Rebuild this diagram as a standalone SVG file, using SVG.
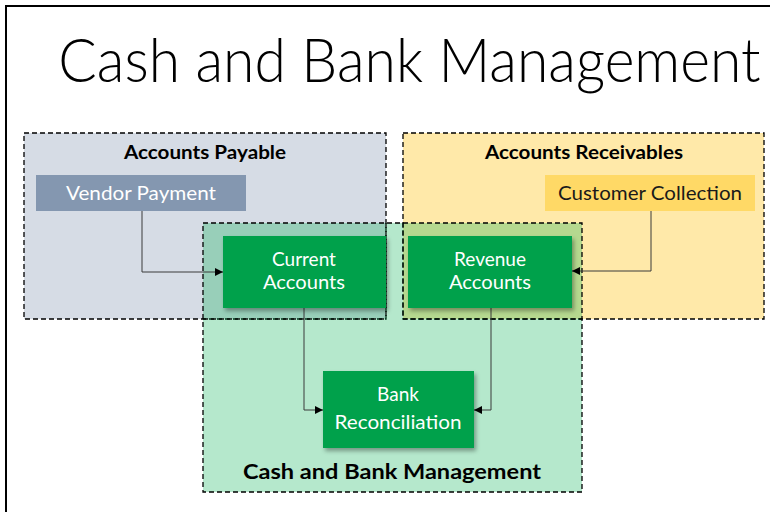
<svg xmlns="http://www.w3.org/2000/svg" width="770" height="512" viewBox="0 0 770 512">
<style>
.grp{stroke:#000;stroke-width:1.3;stroke-dasharray:5 3}
.gl{font-family:Lato,"Liberation Sans",sans-serif;font-weight:bold;fill:#000;text-anchor:middle}
.nt{font-family:Lato,"Liberation Sans",sans-serif;font-size:19px;fill:#fff;text-anchor:middle}
.green{fill:#00a14b}
.conn{fill:none;stroke:#3a3a3a;stroke-width:1}
</style>
<defs>
<marker id="arr" viewBox="0 0 10 10" refX="10" refY="5" markerWidth="8" markerHeight="8" markerUnits="userSpaceOnUse" orient="auto">
<path d="M0,0 L10,5 L0,10 z" fill="#000"/>
</marker>
<filter id="sh" x="-10%" y="-10%" width="130%" height="140%">
<feDropShadow dx="2" dy="3" stdDeviation="2" flood-color="#000" flood-opacity="0.35"/>
</filter>
</defs>
<rect x="0" y="0" width="770" height="512" fill="#fff"/>
<path d="M6,512 L6,6 L770,6" fill="none" stroke="#000" stroke-width="2"/>
<text transform="scale(0.92,1)" x="445" y="82" font-family="Lato,'Open Sans',sans-serif" font-weight="300" font-size="62" text-anchor="middle" fill="#000">Cash and Bank Management</text>

<g id="accounts-payable">
<rect class="grp" x="24" y="133" width="362" height="186" fill="#d6dce5"/>
<text class="gl" x="205" y="159" font-size="18" textLength="162" lengthAdjust="spacingAndGlyphs">Accounts Payable</text>
</g>
<g id="accounts-receivables">
<rect class="grp" x="403" y="133" width="361" height="186" fill="#ffe9a9"/>
<text class="gl" x="584" y="159" font-size="18" textLength="198" lengthAdjust="spacingAndGlyphs">Accounts Receivables</text>
</g>
<g id="cash-bank-management">
<rect x="203" y="223" width="379" height="269" fill="#00b050" fill-opacity="0.29"/>
<rect class="grp" x="203" y="223" width="379" height="269" fill="none"/>
<path class="grp" d="M386,223 L386,319 M403,223 L403,319 M203,319 L386,319 M403,319 L582,319" fill="none" stroke-opacity="0.9"/>
<text class="gl" x="392" y="479" font-size="21" textLength="298" lengthAdjust="spacingAndGlyphs">Cash and Bank Management</text>
</g>

<g id="connectors">
<path class="conn" d="M142,211 L142,272 L223,272" marker-end="url(#arr)"/>
<path class="conn" d="M651,211 L651,271 L572,271" marker-end="url(#arr)"/>
<path class="conn" d="M304,308 L304,410 L323,410" marker-end="url(#arr)"/>
<path class="conn" d="M491,308 L491,410 L474,410" marker-end="url(#arr)"/>
</g>

<g id="vendor-payment">
<rect x="36" y="175" width="210" height="36" fill="#8497b0"/>
<text class="nt" x="141" y="200" textLength="150" lengthAdjust="spacingAndGlyphs">Vendor Payment</text>
</g>
<g id="customer-collection">
<rect x="545" y="175" width="210" height="36" fill="#ffd966"/>
<text class="nt" x="650" y="200" style="fill:#1a1a1a" textLength="184" lengthAdjust="spacingAndGlyphs">Customer Collection</text>
</g>
<g id="current-accounts">
<rect class="green" x="223" y="236" width="163" height="72" filter="url(#sh)"/>
<text class="nt" x="304" y="266">Current</text>
<text class="nt" x="304" y="289" textLength="82" lengthAdjust="spacingAndGlyphs">Accounts</text>
</g>
<g id="revenue-accounts">
<rect class="green" x="408" y="236" width="164" height="72" filter="url(#sh)"/>
<text class="nt" x="490" y="266">Revenue</text>
<text class="nt" x="490" y="289" textLength="82" lengthAdjust="spacingAndGlyphs">Accounts</text>
</g>
<g id="bank-reconciliation">
<rect class="green" x="323" y="371" width="151" height="77" filter="url(#sh)"/>
<text class="nt" x="398" y="401">Bank</text>
<text class="nt" x="398" y="429" textLength="127" lengthAdjust="spacingAndGlyphs">Reconciliation</text>
</g>
</svg>
